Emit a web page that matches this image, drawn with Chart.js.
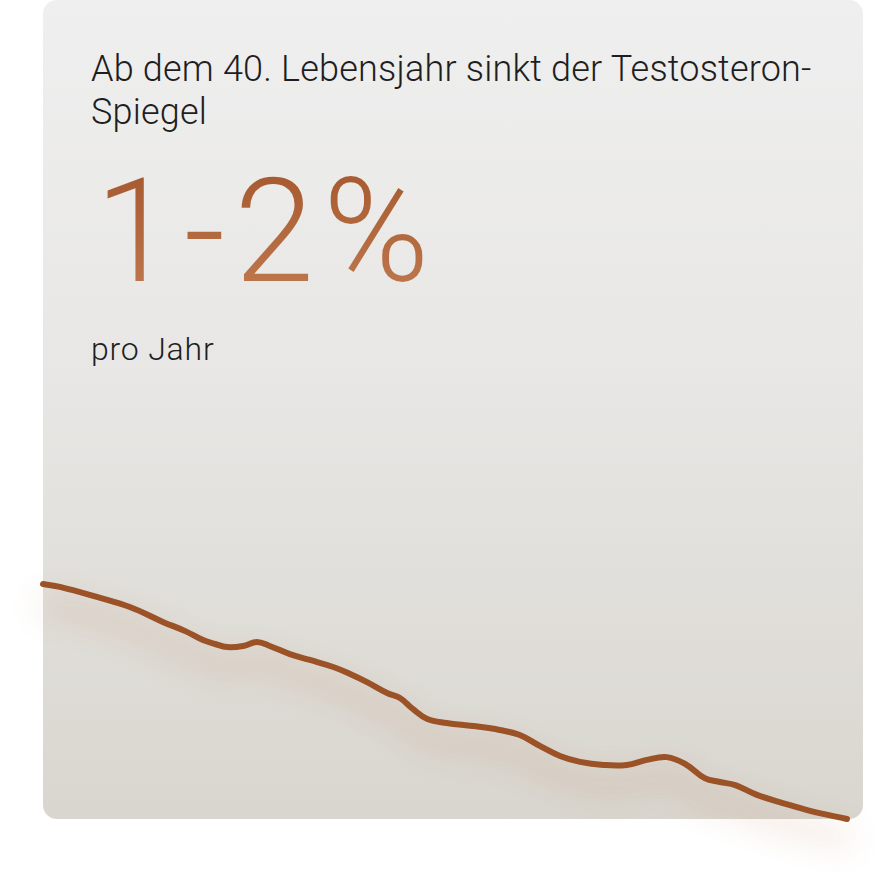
<!DOCTYPE html>
<html>
<head>
<meta charset="utf-8">
<script src="https://cdn.jsdelivr.net/npm/chart.js@4.4.1/dist/chart.umd.min.js"></script>
<style>
  html, body { margin: 0; padding: 0; background: #fff; }
  body { width: 891px; height: 882px; position: relative; overflow: hidden; font-family: Roboto, "Liberation Sans", sans-serif; }
  .card {
    position: absolute; left: 43px; top: 0; width: 820px; height: 819px;
    border-radius: 14px;
    background: linear-gradient(180deg, #efefef 0%, #e8e7e5 45%, #d9d6cf 100%);
  }
  .title {
    position: absolute; left: 91px; top: 48px;
    font-size: 36px; font-weight: 300; line-height: 43px; color: #1e1e1e; letter-spacing: 0.2px;
  }
  .big {
    position: absolute; left: 95px; top: 152px;
    font-size: 144px; font-weight: 300; line-height: 160px; letter-spacing: 9px;
    background: linear-gradient(180deg, #a3552a 0%, #c27c52 100%);
    -webkit-background-clip: text; background-clip: text; color: transparent;
  }
  .sub {
    position: absolute; left: 91px; top: 330px;
    font-size: 32px; font-weight: 300; line-height: 38px; color: #1e1e1e; letter-spacing: 0.8px;
  }
  #wrap { position: absolute; left: 0; top: 0; width: 891px; height: 882px; }
</style>
</head>
<body>
<div class="card"></div>
<div class="title">Ab dem 40. Lebensjahr sinkt der Testosteron-<br>Spiegel</div>
<div class="big">1-2%</div>
<div class="sub">pro Jahr</div>
<div id="wrap"><canvas id="chart"></canvas></div>

<script>
// position along the curve (0..100) and testosterone level (relative units)
const xValues = [0, 2.1, 6.7, 10.8, 14.9, 17.7, 19.9, 21.4, 22.9, 24.9, 26.6, 28.2, 30.7, 33.2, 36.1,
  38.2, 40.3, 42.8, 44.4, 46.0, 47.8, 50.2, 53.5, 56.8, 59.3, 61.8, 64.3, 66.8, 69.7, 72.6,
  75.1, 77.6, 79.9, 82.3, 84.2, 86.1, 88.8, 92.0, 95.4, 100]
const levels = [91.4, 90.4, 86.8, 83.2, 77.9, 74.6, 71.4, 70.0, 68.9, 69.3, 70.7, 69.3, 66.4, 64.3, 61.8,
  59.3, 56.4, 52.5, 50.7, 46.8, 43.2, 41.8, 40.7, 39.3, 37.5, 33.6, 30.0, 27.9, 26.8, 26.8,
  28.6, 29.6, 27.1, 22.1, 20.7, 19.6, 16.1, 13.2, 10.4, 7.5]

let points = []
for (let i = 0; i < xValues.length; i++) {
    points.push({ x: xValues[i], y: levels[i] })
}

const glow = {
    id: 'glow',
    beforeDatasetDraw(chart) {
        const ctx = chart.ctx
        ctx.save()
        ctx.shadowColor = 'rgba(175, 95, 45, 0.45)'
        ctx.shadowBlur = 32
        ctx.shadowOffsetY = 20
    },
    afterDatasetDraw(chart) {
        chart.ctx.restore()
    }
}

const config = {
    type: 'line',
    data: {
        datasets: [{
            data: points,
            borderColor: '#9b5226',
            borderWidth: 6,
            borderCapStyle: 'round',
            borderJoinStyle: 'round',
            pointRadius: 0,
            tension: 0.4,
            fill: false,
            clip: false
        }]
    },
    options: {
        responsive: true,
        maintainAspectRatio: false,
        animation: false,
        layout: { padding: { left: 43, right: 44, top: 560, bottom: 42 } },
        plugins: { legend: { display: false }, tooltip: { enabled: false } },
        scales: {
            x: { type: 'linear', min: 0, max: 100, display: false },
            y: { min: 0, max: 100, display: false }
        }
    },
    plugins: [glow]
};

var ctx = document.getElementById('chart').getContext('2d');
var myChart = new Chart(ctx, config);
</script>
</body>
</html>
